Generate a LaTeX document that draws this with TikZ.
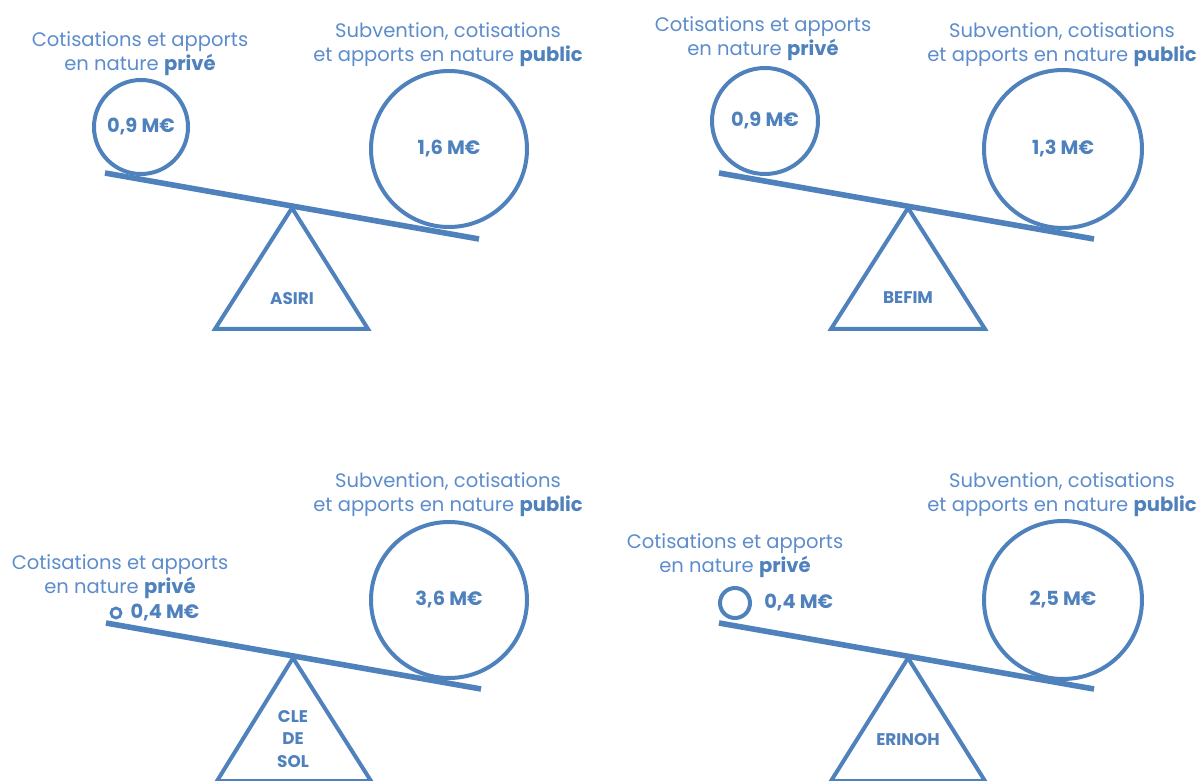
\documentclass[tikz,border=0pt]{standalone}
\usepackage{fontspec}
\setmainfont{Poppins}
\usepackage{tikz}
\usetikzlibrary{positioning}
\definecolor{balblue}{RGB}{79,129,189}
\definecolor{softblue}{RGB}{92,140,204}
\tikzstyle{beam} = [draw=balblue, line width=1.4mm]
\tikzstyle{fulcrum} = [draw=balblue, line width=1mm, line join=miter]
\tikzstyle{weight} = [circle, draw=balblue, line width=1mm, inner sep=0pt, text=balblue, font=\bfseries\fontsize{13.8}{16}\selectfont]
\tikzstyle{valtext} = [text=balblue, inner sep=0pt, font=\bfseries\fontsize{13.8}{16}\selectfont]
\tikzstyle{sourcetext} = [text=softblue, align=center, font=\fontsize{13.9}{17}\selectfont]
\tikzstyle{sitename} = [text=balblue, align=center, font=\bfseries\fontsize{12}{16}\selectfont]

\begin{document}
\begin{tikzpicture}[x=0.25mm, y=-0.25mm]
        \useasboundingbox (0,0) rectangle (1200,781);
        \node (priv1) [sourcetext] at (140,54) {Cotisations et apports\\en nature \textcolor{balblue}{\textbf{privé}}};
        \node (pub1) [sourcetext] at (448,45) {Subvention, cotisations\\et apports en nature \textcolor{balblue}{\textbf{public}}};
        \node (small1) [weight, minimum size=23.5mm] at (141,127) {0,9 M€};
        \node (big1) [weight, minimum size=39mm] at (449,149) {1,6 M€};
        \coordinate (bl1) at (105,173);
        \coordinate (br1) at (479,239);
        \coordinate (top1) at (292,208);
        \draw [beam] (bl1) -- (br1);
        \draw [fulcrum] (top1) -- (215,329) -- (368,329) -- cycle;
        \node (asiri) [sitename] at (292,299) {ASIRI};

        \node (priv2) [sourcetext] at (763,39) {Cotisations et apports\\en nature \textcolor{balblue}{\textbf{privé}}};
        \node (pub2) [sourcetext] at (1062,45) {Subvention, cotisations\\et apports en nature \textcolor{balblue}{\textbf{public}}};
        \node (small2) [weight, minimum size=26.5mm] at (765,121) {0,9 M€};
        \node (big2) [weight, minimum size=39.5mm] at (1063,149) {1,3 M€};
        \coordinate (bl2) at (719,173);
        \coordinate (br2) at (1094,239);
        \coordinate (top2) at (908,208);
        \draw [beam] (bl2) -- (br2);
        \draw [fulcrum] (top2) -- (831,329) -- (985,329) -- cycle;
        \node (befim) [sitename] at (908,298) {BEFIM};

        \node (priv3) [sourcetext] at (120,577) {Cotisations et apports\\en nature \textcolor{balblue}{\textbf{privé}}};
        \node (pub3) [sourcetext] at (448,495) {Subvention, cotisations\\et apports en nature \textcolor{balblue}{\textbf{public}}};
        \node (small3) [weight, minimum size=2.5mm, line width=0.7mm] at (116,613) {};
        \node (val3) [valtext, right=2mm of small3] {0,4 M€};
        \node (big3) [weight, minimum size=39mm] at (449,600) {3,6 M€};
        \coordinate (bl3) at (106,623);
        \coordinate (br3) at (481,689);
        \coordinate (top3) at (293,658);
        \draw [beam] (bl3) -- (br3);
        \draw [fulcrum] (top3) -- (217,781) -- (371,781) -- cycle;
        \node (cledesol) [sitename] at (293,739) {CLE\\DE\\SOL};

        \node (priv4) [sourcetext] at (735,556) {Cotisations et apports\\en nature \textcolor{balblue}{\textbf{privé}}};
        \node (pub4) [sourcetext] at (1062,495) {Subvention, cotisations\\et apports en nature \textcolor{balblue}{\textbf{public}}};
        \node (small4) [weight, minimum size=7.5mm] at (735,603) {};
        \node (val4) [valtext, right=3mm of small4] {0,4 M€};
        \node (big4) [weight, minimum size=39.5mm] at (1063,600) {2,5 M€};
        \coordinate (bl4) at (719,623);
        \coordinate (br4) at (1094,689);
        \coordinate (top4) at (908,658);
        \draw [beam] (bl4) -- (br4);
        \draw [fulcrum] (top4) -- (831,781) -- (985,781) -- cycle;
        \node (erinoh) [sitename] at (908,740) {ERINOH};
\end{tikzpicture}
\end{document}
